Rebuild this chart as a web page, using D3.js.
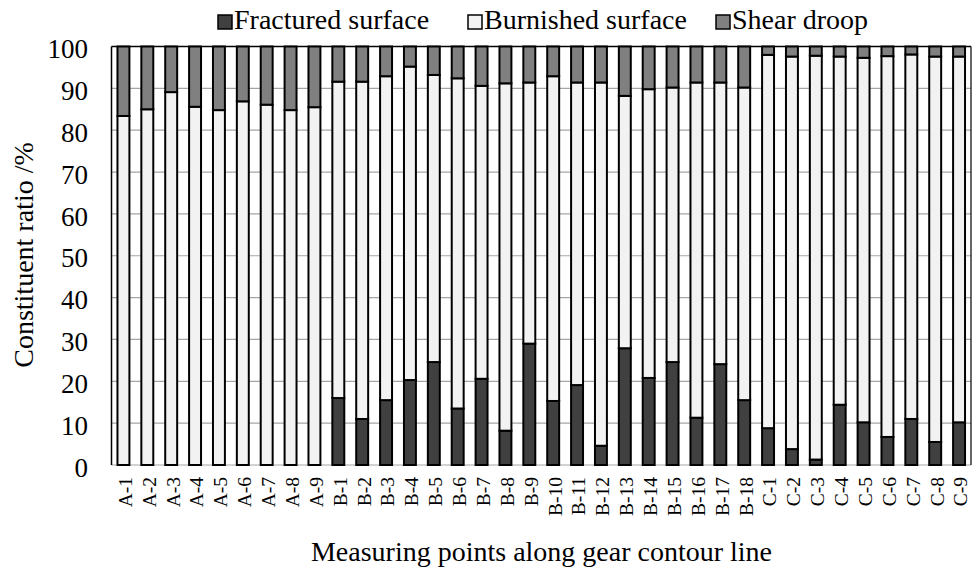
<!DOCTYPE html>
<html><head><meta charset="utf-8">
<script src="https://cdn.jsdelivr.net/npm/d3@7"></script>
<style>body{margin:0;background:#fff}svg{display:block}</style>
</head><body><svg id="c" width="972" height="577" font-family="'Liberation Serif', 'Times New Roman', serif"></svg>
<script>
const categories = ["A-1","A-2","A-3","A-4","A-5","A-6","A-7","A-8","A-9",
 "B-1","B-2","B-3","B-4","B-5","B-6","B-7","B-8","B-9","B-10","B-11","B-12","B-13","B-14","B-15","B-16","B-17","B-18",
 "C-1","C-2","C-3","C-4","C-5","C-6","C-7","C-8","C-9"];
const fractured = [0,0,0,0,0,0,0,0,0,
 16,11,15.5,20.3,24.6,13.5,20.6,8.2,29,15.3,19.1,4.6,27.9,20.8,24.6,11.3,24.1,15.5,
 8.8,3.8,1.3,14.4,10.2,6.7,11,5.5,10.2];
const burnished = [83.4,85,89.1,85.6,84.8,86.9,86.1,84.8,85.5,
 75.6,80.6,77.4,74.9,68.6,78.9,70,83,62.4,77.6,72.3,86.8,60.3,69,65.6,80.1,67.3,74.7,
 89.2,93.8,96.5,83.2,87.1,91,87.1,92.1,87.4];
const shear = categories.map((c,i)=> +(100 - fractured[i] - burnished[i]).toFixed(1));
const seriesNames = ["Fractured surface","Burnished surface","Shear droop"];
const colors = ["#404040","#f2f2f2","#808080"];
const yTicks = [0,10,20,30,40,50,60,70,80,90,100];
const FONT = "'Liberation Serif', 'Times New Roman', serif";

const svg = d3.select("#c");
const m = {l:111.5, r:971, t:46.5, b:465};
const x = d3.scaleBand().domain(categories).range([m.l, m.r]).paddingInner(0.5).paddingOuter(0.25);
const y = d3.scaleLinear().domain([0,100]).range([m.b, m.t]);

svg.append("g").selectAll("line").data(yTicks).join("line")
  .attr("x1", m.l).attr("x2", m.r).attr("y1", d=>y(d)).attr("y2", d=>y(d))
  .attr("stroke", d => d===100 ? "#000" : "#a6a6a6").attr("stroke-width", d=>d===100?1.5:1.2);
svg.append("line").attr("x1",m.l).attr("x2",m.l).attr("y1",m.t).attr("y2",m.b).attr("stroke","#000").attr("stroke-width",1.5);
svg.append("line").attr("x1",m.r).attr("x2",m.r).attr("y1",m.t).attr("y2",m.b).attr("stroke","#000").attr("stroke-width",1.2);

const rows = categories.map((c,i)=>({cat:c, "Fractured surface":fractured[i], "Burnished surface":burnished[i], "Shear droop":shear[i]}));
const stack = d3.stack().keys(seriesNames)(rows);

const g = svg.append("g");
stack.forEach((layer, k) => {
  g.append("g").selectAll("rect").data(layer).join("rect")
    .attr("x", d => x(d.data.cat))
    .attr("width", x.bandwidth())
    .attr("y", d => y(d[1]))
    .attr("height", d => Math.max(0, y(d[0]) - y(d[1])))
    .attr("fill", colors[k]).attr("stroke", "#000").attr("stroke-width", 2);
});

svg.append("g").selectAll("text").data(yTicks).join("text")
  .attr("font-family", FONT)
  .attr("x", 88).attr("y", d => y(d)).attr("dy","0.43em").attr("text-anchor","end")
  .attr("font-size", 27).text(d=>d);

svg.append("g").selectAll("text").data(categories).join("text")
  .attr("font-family", FONT)
  .attr("transform", d => `translate(${x(d)+x.bandwidth()/2+1.5},477) rotate(-90)`)
  .attr("text-anchor","end").attr("dy","0.35em").attr("font-size", 19.5).text(d=>d);

svg.append("text").attr("font-family", FONT).attr("x", 541.5).attr("y", 561).attr("text-anchor","middle").attr("font-size", 28)
  .text("Measuring points along gear contour line");
svg.append("text").attr("font-family", FONT).attr("transform","translate(33,255) rotate(-90)").attr("text-anchor","middle").attr("font-size", 28)
  .text("Constituent ratio /%");

const legX = [218, 468, 716];
const leg = svg.append("g");
seriesNames.forEach((n,k)=>{
  leg.append("rect").attr("x", legX[k]).attr("y", 15).attr("width", 14).attr("height", 14)
    .attr("fill", colors[k]).attr("stroke","#000").attr("stroke-width",1.5);
  leg.append("text").attr("font-family", FONT).attr("x", legX[k]+16).attr("y", 29).attr("font-size", 28).text(n);
});
</script></body></html>
